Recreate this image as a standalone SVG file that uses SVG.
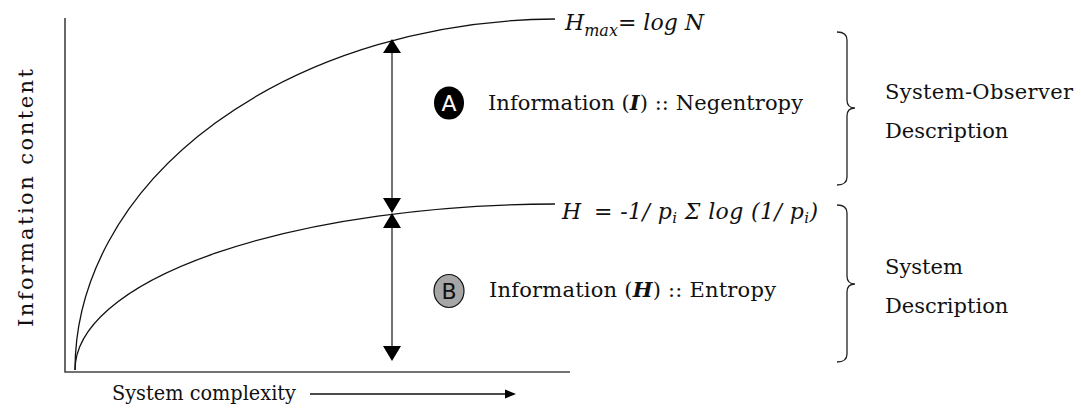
<svg xmlns="http://www.w3.org/2000/svg" width="1081" height="410" viewBox="0 0 1081 410">
<style>
.t{font-family:"DejaVu Serif","Liberation Serif",serif;font-size:21px;fill:#111}
.f{font-family:"DejaVu Serif","Liberation Serif",serif;font-style:italic;font-size:22px;fill:#111}
.axis{stroke:#444;stroke-width:1.6;fill:none}
.curve{stroke:#111;stroke-width:1.3;fill:none}
.br{stroke:#222;stroke-width:1.3;fill:none}
.shaft{stroke:#444;stroke-width:1.5;fill:none}
.head{fill:#000}
.circ{font-family:"DejaVu Sans","Liberation Sans",sans-serif;font-size:22px}
</style>
<rect width="1081" height="410" fill="#fff"/>
<g id="axes">
<path class="axis" d="M65,18 V372 H570"/>
<text class="t" font-size="24" transform="translate(33,198) rotate(-90)" text-anchor="middle" textLength="258" lengthAdjust="spacing">Information content</text>
<text class="t" x="112" y="400" font-size="20" textLength="184" lengthAdjust="spacingAndGlyphs">System complexity</text>
<line x1="310" y1="394" x2="506" y2="394" stroke="#111" stroke-width="1.3"/>
<polygon class="head" points="516,394 505,389.5 505,398.5"/>
</g>
<g id="curve-hmax">
<path class="curve" d="M75,370 A485,351 0 0 1 555,19"/>
</g>
<g id="curve-h">
<path class="curve" d="M75,370 A485,166 0 0 1 555,204"/>
</g>
<g id="label-hmax">
<text class="f" x="565" y="30">H<tspan font-size="16" dy="6">max</tspan><tspan dy="-6">= log N</tspan></text>
</g>
<g id="label-h">
<text class="f" x="562" y="219">H</text>
<text class="f" x="594" y="219" textLength="224" lengthAdjust="spacing">= -1/ p<tspan font-size="15" dy="4">i</tspan><tspan dy="-4"> Σ log (1/ p</tspan><tspan font-size="15" dy="4">i</tspan><tspan dy="-4">)</tspan></text>
</g>
<g id="connectors">
<line class="shaft" x1="392" y1="52" x2="392" y2="199"/>
<line class="shaft" x1="392" y1="227" x2="392" y2="347"/>
<polygon class="head" points="392,39 383,53 401,53"/>
<polygon class="head" points="392,213 383,198 401,198"/>
<polygon class="head" points="392,213 383,228 401,228"/>
<polygon class="head" points="392,361 383,346 401,346"/>
</g>
<g id="node-a">
<ellipse cx="449" cy="103" rx="15" ry="16.5" fill="#000"/>
<text class="circ" x="449" y="111" text-anchor="middle" fill="#fff">A</text>
<text class="t" x="488" y="110" textLength="315" lengthAdjust="spacing">Information (<tspan font-weight="bold" font-style="italic">I</tspan>) :: Negentropy</text>
</g>
<g id="node-b">
<ellipse cx="449" cy="291" rx="15" ry="16.5" fill="#a6a6a6" stroke="#111" stroke-width="1.2"/>
<text class="circ" x="449" y="299" text-anchor="middle" fill="#111">B</text>
<text class="t" x="489" y="297" textLength="287" lengthAdjust="spacing">Information (<tspan font-weight="bold" font-style="italic">H</tspan>) :: Entropy</text>
</g>
<g id="bracket-observer">
<path class="br" d="M837,32 Q847,32 847,40 V100 Q847,108 855,108 Q847,108 847,116 V177 Q847,185 837,185"/>
<text class="t" x="885" y="99" textLength="188" lengthAdjust="spacing">System-Observer</text>
<text class="t" x="885" y="138" font-size="20.5">Description</text>
</g>
<g id="bracket-system">
<path class="br" d="M837,205 Q847,205 847,213 V276 Q847,284 855,284 Q847,284 847,292 V354 Q847,362 837,362"/>
<text class="t" x="885" y="274" font-size="20.5">System</text>
<text class="t" x="885" y="313" font-size="20.5">Description</text>
</g>
</svg>
